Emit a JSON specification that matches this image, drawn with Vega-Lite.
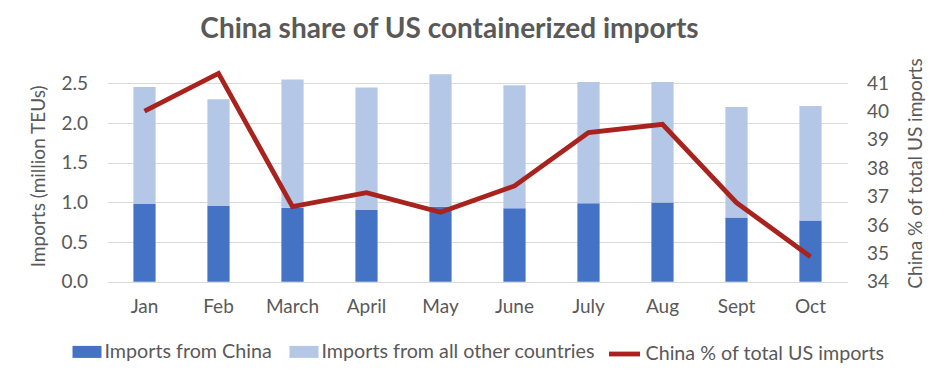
{
  "$schema": "https://vega.github.io/schema/vega-lite/v6.json",
  "width": 740,
  "height": 211.7,
  "autosize": {"type": "none"},
  "padding": {"left": 107.5, "top": 70, "right": 98.5, "bottom": 90.3},
  "background": "white",
  "config": {
    "view": {"stroke": null},
    "font": "Lato",
    "axis": {
      "labelColor": "#595959",
      "titleColor": "#595959",
      "labelFont": "Lato",
      "titleFont": "Lato",
      "labelFontSize": 19,
      "titleFontSize": 19,
      "titleFontWeight": "normal",
      "ticks": false,
      "domain": false
    },
    "legend": {
      "labelFont": "Lato",
      "labelFontSize": 19.7,
      "labelColor": "#595959",
      "labelLimit": 0,
      "padding": 0
    }
  },
  "title": {
    "text": "China share of US containerized imports",
    "font": "Lato",
    "fontSize": 28,
    "fontWeight": "bold",
    "color": "#595959",
    "anchor": "middle",
    "frame": "group",
    "dx": -28,
    "offset": 14
  },
  "datasets": {
    "imports": [
      {"month": "Jan", "series": "Imports from China", "value": 0.98},
      {"month": "Jan", "series": "Imports from all other countries", "value": 1.474},
      {"month": "Feb", "series": "Imports from China", "value": 0.955},
      {"month": "Feb", "series": "Imports from all other countries", "value": 1.345},
      {"month": "March", "series": "Imports from China", "value": 0.933},
      {"month": "March", "series": "Imports from all other countries", "value": 1.614},
      {"month": "April", "series": "Imports from China", "value": 0.905},
      {"month": "April", "series": "Imports from all other countries", "value": 1.541},
      {"month": "May", "series": "Imports from China", "value": 0.946},
      {"month": "May", "series": "Imports from all other countries", "value": 1.667},
      {"month": "June", "series": "Imports from China", "value": 0.926},
      {"month": "June", "series": "Imports from all other countries", "value": 1.549},
      {"month": "July", "series": "Imports from China", "value": 0.99},
      {"month": "July", "series": "Imports from all other countries", "value": 1.526},
      {"month": "Aug", "series": "Imports from China", "value": 0.997},
      {"month": "Aug", "series": "Imports from all other countries", "value": 1.519},
      {"month": "Sept", "series": "Imports from China", "value": 0.81},
      {"month": "Sept", "series": "Imports from all other countries", "value": 1.392},
      {"month": "Oct", "series": "Imports from China", "value": 0.77},
      {"month": "Oct", "series": "Imports from all other countries", "value": 1.445}
    ],
    "share": [
      {"month": "Jan", "share": 40.02},
      {"month": "Feb", "share": 41.35},
      {"month": "March", "share": 36.65},
      {"month": "April", "share": 37.14},
      {"month": "May", "share": 36.45},
      {"month": "June", "share": 37.38},
      {"month": "July", "share": 39.26},
      {"month": "Aug", "share": 39.55},
      {"month": "Sept", "share": 36.79},
      {"month": "Oct", "share": 34.88}
    ]
  },
  "layer": [
    {
      "data": {"name": "imports"},
      "mark": {"type": "bar"},
      "encoding": {
        "x": {
          "field": "month",
          "type": "nominal",
          "sort": ["Jan", "Feb", "March", "April", "May", "June", "July", "Aug", "Sept", "Oct"],
          "scale": {"paddingInner": 0.7, "paddingOuter": 0.35},
          "axis": {"title": null, "labelAngle": 0, "labelPadding": 16, "grid": false}
        },
        "y": {
          "field": "value",
          "type": "quantitative",
          "stack": "zero",
          "scale": {"domain": [0, 2.668], "nice": false},
          "axis": {
            "title": "Imports (million TEUs)",
            "values": [0, 0.5, 1, 1.5, 2, 2.5],
            "format": ".1f",
            "grid": true,
            "gridColor": "#D9D9D9",
            "gridWidth": 1.2,
            "labelPadding": 20,
            "titlePadding": 12
          }
        },
        "order": {"field": "series", "sort": "ascending"},
        "color": {
          "field": "series",
          "type": "nominal",
          "scale": {
            "domain": ["Imports from China", "Imports from all other countries"],
            "range": ["#4472C4", "#B4C7E7"]
          },
          "legend": {
            "orient": "none",
            "legendX": -35,
            "legendY": 267,
            "direction": "horizontal",
            "title": null,
            "symbolType": "M-1,-0.414H1V0.414H-1Z",
            "symbolSize": 841,
            "symbolStrokeWidth": 0,
            "columnPadding": 17,
            "labelOffset": 3
          }
        }
      }
    },
    {
      "data": {"name": "share"},
      "mark": {"type": "line", "strokeWidth": 4.8},
      "encoding": {
        "x": {
          "field": "month",
          "type": "nominal",
          "sort": ["Jan", "Feb", "March", "April", "May", "June", "July", "Aug", "Sept", "Oct"]
        },
        "y": {
          "field": "share",
          "type": "quantitative",
          "scale": {"domain": [34, 41.469], "nice": false, "zero": false},
          "axis": {
            "orient": "right",
            "title": "China % of total US imports",
            "titleAngle": 270,
            "titleX": 67.5,
            "titleY": 103,
            "titleAlign": "center",
            "titleBaseline": "middle",
            "values": [34, 35, 36, 37, 38, 39, 40, 41],
            "grid": false,
            "labelPadding": 19
          }
        },
        "stroke": {
          "datum": "China % of total US imports",
          "type": "nominal",
          "scale": {"range": ["#A8231E"]},
          "legend": {
            "orient": "none",
            "legendX": 499,
            "legendY": 266,
            "title": null,
            "symbolType": "stroke",
            "symbolSize": 961,
            "symbolStrokeWidth": 4.8,
            "labelOffset": 3
          }
        }
      }
    }
  ],
  "resolve": {"scale": {"y": "independent"}}
}
